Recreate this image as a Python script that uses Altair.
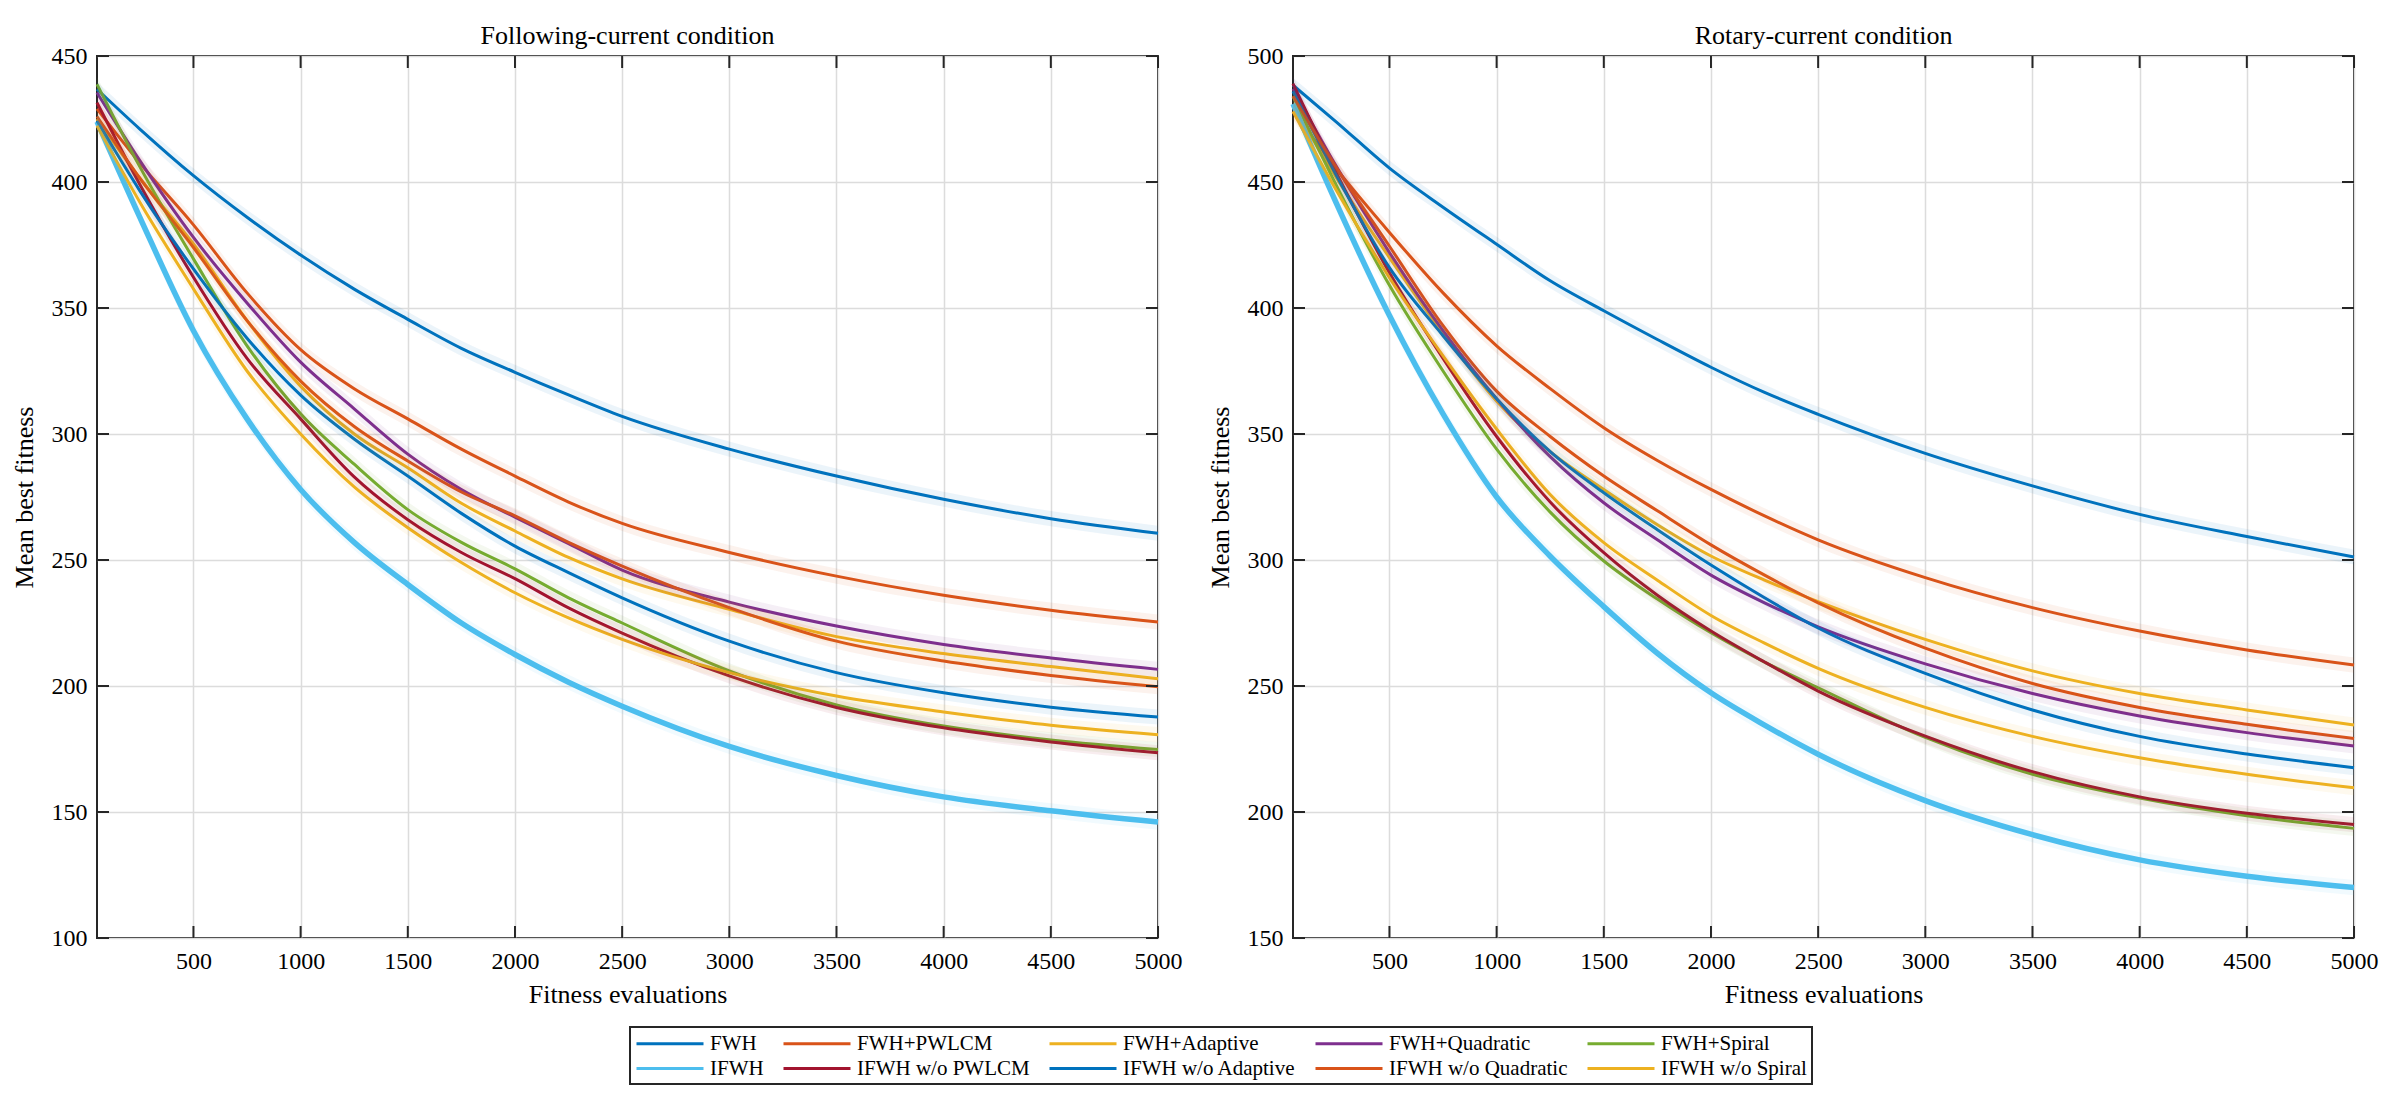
import altair as alt
import pandas as pd

EVALS = [50, 250, 500, 750, 1000, 1250, 1500, 1750, 2000, 2250, 2500, 3000, 3500, 4000, 4500, 5000]

SERIES = ["FWH", "FWH+PWLCM", "FWH+Adaptive", "FWH+Quadratic", "FWH+Spiral",
          "IFWH", "IFWH w/o PWLCM", "IFWH w/o Adaptive", "IFWH w/o Quadratic", "IFWH w/o Spiral"]
COLORS = ["#0072BD", "#D95319", "#EDB120", "#7E2F8E", "#77AC30",
          "#4DBEEE", "#A2142F", "#0072BD", "#D95319", "#EDB120"]
WIDTHS = [3, 3, 3, 3, 3, 5.5, 3, 3, 3, 3]

# ---- Following-current condition ----
F_FWH = [436.8, 421, 402.5, 386, 371, 357.5, 345.5, 334, 324.5, 315.5, 307, 294, 283.3, 274.1, 266.4, 260.6]
F_FWH_PWLCM = [429, 407.5, 383, 356, 333.5, 318, 306, 294, 283.3, 273, 264.5, 253, 243.6, 236, 230.1, 225.4]
F_FWH_ADAPTIVE = [425, 401.5, 375.4, 345, 319, 300, 286.6, 272.5, 261.5, 251, 242.5, 230.4, 219.6, 212.9, 207.7, 202.9]
F_FWH_QUADRATIC = [435.5, 408.5, 378, 352, 328.5, 310, 292, 278, 267, 256.5, 246, 233.3, 223.8, 216.5, 211.1, 206.6]
F_FWH_SPIRAL = [438.8, 406, 369.5, 335, 308, 288, 270, 257, 246.5, 235, 225, 206, 192.5, 184.1, 178.6, 174.8]
F_IFWH = [424, 386, 341, 306, 278, 257, 240.3, 225, 212.5, 201.5, 192, 176, 164.5, 156, 150.5, 146]
F_NO_PWLCM = [431.5, 399, 362.2, 330, 306, 283, 266, 253, 242.6, 231, 221, 204, 191.5, 183.4, 177.8, 173.5]
F_NO_ADAPTIVE = [424.3, 396.5, 365.5, 338, 315.4, 298, 283.3, 268.5, 255.5, 245, 235, 217.8, 205.3, 197.3, 191.6, 187.7]
F_NO_QUADRATIC = [426, 401.5, 374, 345, 321, 303, 289.3, 277, 267.5, 257, 247.6, 231.1, 217.8, 209.9, 204.2, 199.7]
F_NO_SPIRAL = [422.3, 392, 357.6, 325, 300, 279, 262.8, 249, 237, 227, 218.5, 205.3, 196, 189.7, 184.4, 180.7]

# ---- Rotary-current condition ----
R_FWH = [488.4, 474, 455.5, 440, 425.3, 410.8, 398.9, 387.5, 376.5, 366.5, 357.8, 342.3, 329.4, 318.1, 309.3, 301.2]
R_FWH_PWLCM = [478, 455.5, 430, 406, 385, 368, 352.5, 339.5, 328, 317.5, 308, 293, 281.1, 271.8, 264.3, 258.3]
R_FWH_ADAPTIVE = [480, 452, 420, 390, 363, 343, 328, 314, 301.6, 292, 283.5, 268.5, 256, 247, 240.5, 234.5]
R_FWH_QUADRATIC = [487, 456.5, 422, 391, 364, 341, 322.7, 308, 294, 283, 273.5, 258.8, 247, 238.1, 231.5, 226.2]
R_FWH_SPIRAL = [484, 449, 409, 375, 344, 319, 299.6, 284.5, 271.1, 259.5, 249.3, 229.6, 215, 205.5, 198.5, 193.5]
R_IFWH = [481, 442, 397, 358, 325, 301.5, 281.5, 263, 247.3, 234.5, 222.9, 204.5, 191, 181, 174.5, 170]
R_NO_PWLCM = [489, 454, 414, 380, 349, 323, 302.9, 286, 271.8, 259.5, 248, 230.1, 216, 206, 199.5, 195]
R_NO_ADAPTIVE = [486, 453, 416, 389, 364, 343, 326.7, 312, 298, 285, 273, 255, 240.5, 230, 223, 217.6]
R_NO_QUADRATIC = [484, 456, 424.5, 393, 367, 349, 333.3, 319.5, 306, 294, 283, 265, 251, 241.5, 234.8, 229.2]
R_NO_SPIRAL = [478, 447, 412, 381, 352, 326, 306.9, 292, 278, 267, 257, 241.5, 230, 221.5, 215, 209.6]

X_TICKS = [500, 1000, 1500, 2000, 2500, 3000, 3500, 4000, 4500, 5000]
F_Y_TICKS = [100, 150, 200, 250, 300, 350, 400, 450]
R_Y_TICKS = [150, 200, 250, 300, 350, 400, 450, 500]

F_VALUES = [F_FWH, F_FWH_PWLCM, F_FWH_ADAPTIVE, F_FWH_QUADRATIC, F_FWH_SPIRAL,
            F_IFWH, F_NO_PWLCM, F_NO_ADAPTIVE, F_NO_QUADRATIC, F_NO_SPIRAL]
R_VALUES = [R_FWH, R_FWH_PWLCM, R_FWH_ADAPTIVE, R_FWH_QUADRATIC, R_FWH_SPIRAL,
            R_IFWH, R_NO_PWLCM, R_NO_ADAPTIVE, R_NO_QUADRATIC, R_NO_SPIRAL]


def to_frame(values):
    rows = []
    for k, (name, vals) in enumerate(zip(SERIES, values)):
        for t, v in zip(EVALS, vals):
            rows.append({"series": name, "order": k, "sw": WIDTHS[k],
                         "evals": t, "fitness": v})
    return pd.DataFrame(rows)


FONT = "Liberation Serif"
INK = "#262626"
W, H = 1061, 882
TICK = 12
# long horizontal legend swatch (path in symbol units, scaled by sqrt(symbolSize)/2)
SWATCH = "M-1,0L5.7,0"


def panel(values, title, ydomain, yticks):
    df = to_frame(values)
    xscale = alt.Scale(domain=[50, 5000], nice=False, zero=False)
    yscale = alt.Scale(domain=ydomain, nice=False, zero=False)
    xaxis = alt.Axis(values=X_TICKS, format="d", title="Fitness evaluations", grid=True,
                     ticks=False, labelPadding=11, titlePadding=8, labelFlush=False)
    yaxis = alt.Axis(values=yticks, format="d", title="Mean best fitness", grid=True,
                     ticks=False, labelPadding=10, titlePadding=14, labelFlush=False)
    color_scale = alt.Scale(domain=SERIES, range=COLORS)

    lines = alt.Chart(df).mark_line(interpolate="monotone").encode(
        x=alt.X("evals:Q", scale=xscale, axis=xaxis),
        y=alt.Y("fitness:Q", scale=yscale, axis=yaxis),
        color=alt.Color("series:N", scale=color_scale, sort=SERIES, title=None,
                        legend=alt.Legend(orient="none", legendX=533, legendY=971,
                                          columns=5, direction="horizontal",
                                          symbolType=SWATCH)),
        strokeWidth=alt.StrokeWidth("sw:Q", scale=None, legend=None),
        order="order:Q",
        detail="series:N",
    )

    # faint spread band drawn around each mean curve
    band = alt.Chart(df).transform_calculate(
        lo="datum.fitness - 3", hi="datum.fitness + 3"
    ).mark_area(opacity=0.08, interpolate="monotone").encode(
        x=alt.X("evals:Q", scale=xscale, axis=xaxis),
        y=alt.Y("lo:Q", scale=yscale, axis=yaxis),
        y2="hi:Q",
        color=alt.Color("series:N", scale=color_scale, legend=None),
        detail="series:N",
    )

    xt = pd.DataFrame({"evals": X_TICKS})
    yt = pd.DataFrame({"fitness": yticks})
    tx_bottom = alt.Chart(xt).mark_rule(color=INK, strokeWidth=2).encode(
        x=alt.X("evals:Q", scale=xscale, axis=xaxis), y=alt.value(H), y2=alt.value(H - TICK))
    tx_top = alt.Chart(xt).mark_rule(color=INK, strokeWidth=2).encode(
        x=alt.X("evals:Q", scale=xscale, axis=xaxis), y=alt.value(0), y2=alt.value(TICK))
    ty_left = alt.Chart(yt).mark_rule(color=INK, strokeWidth=2).encode(
        y=alt.Y("fitness:Q", scale=yscale, axis=yaxis), x=alt.value(0), x2=alt.value(TICK))
    ty_right = alt.Chart(yt).mark_rule(color=INK, strokeWidth=2).encode(
        y=alt.Y("fitness:Q", scale=yscale, axis=yaxis), x=alt.value(W), x2=alt.value(W - TICK))

    return alt.layer(lines, band, tx_bottom, tx_top, ty_left, ty_right).properties(
        width=W, height=H,
        title=alt.TitleParams(title, font=FONT, fontSize=26, fontWeight="normal",
                              color="black", offset=-5),
    )


left = panel(F_VALUES, "Following-current condition", [100, 450], F_Y_TICKS)
right = panel(R_VALUES, "Rotary-current condition", [150, 500], R_Y_TICKS)

chart = alt.hconcat(left, right, spacing=23).properties(
    padding={"left": 2, "top": 14, "right": 10, "bottom": 8}
).configure_view(
    stroke=INK, strokeWidth=2
).configure_axis(
    labelFont=FONT, labelFontSize=24, labelColor="black",
    titleFont=FONT, titleFontSize=26, titleFontWeight="normal", titleColor="black",
    gridColor="#dcdcdc", gridWidth=1.5, domain=False,
).configure_legend(
    labelFont=FONT, labelFontSize=21, labelColor="black",
    symbolSize=400, symbolStrokeWidth=3,
    labelOffset=52, columnPadding=13, rowPadding=3,
    strokeColor=INK, strokeWidth=2, fillColor="white", padding=5, cornerRadius=0,
    labelLimit=400,
)

chart.save("out.html", embed_options={"renderer": "svg", "actions": False})
